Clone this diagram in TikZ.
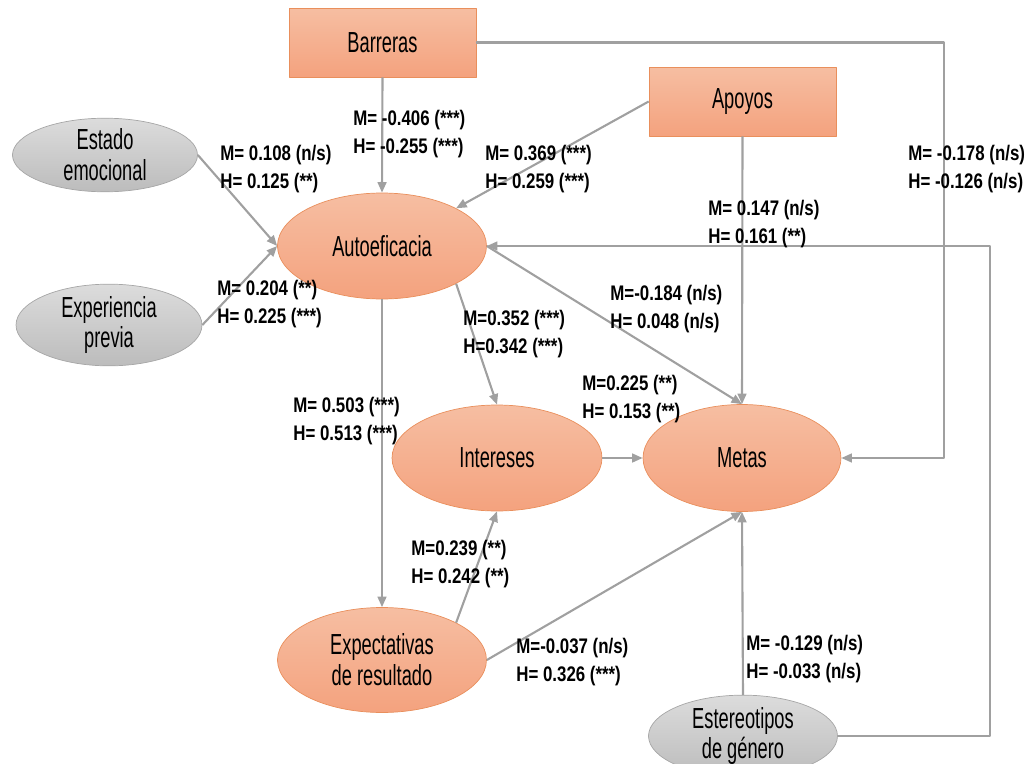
\documentclass[tikz,border=0pt]{standalone}
\usepackage{fontspec}
\setmainfont{Liberation Sans}
\newfontfamily\nodefont[FakeStretch=0.63]{Liberation Sans}
\newfontfamily\labfont[FakeStretch=0.8]{Liberation Sans}
\usepackage{tikz}
\usetikzlibrary{shapes.geometric,arrows.meta}
\definecolor{salmonA}{HTML}{F6BEA2}
\definecolor{salmonB}{HTML}{F4A27E}
\definecolor{salmonL}{HTML}{E98F5C}
\definecolor{grisA}{HTML}{DCDCDC}
\definecolor{grisB}{HTML}{BCBCBC}
\definecolor{grisL}{HTML}{A6A6A6}
\definecolor{flecha}{HTML}{A0A0A0}
\tikzset{>={Triangle[length=6pt,width=5pt]}}
\tikzset{
  caja/.style={rectangle,draw=salmonL,top color=salmonA,bottom color=salmonB,
    minimum width=3.74cm,minimum height=1.38cm,inner sep=0pt,
    font=\nodefont\fontsize{16.5}{17}\selectfont},
  latente/.style={ellipse,draw=salmonL,top color=salmonA,bottom color=salmonB,
    inner sep=0pt,align=center,font=\nodefont\fontsize{16.5}{17.5}\selectfont},
  externa/.style={ellipse,draw=grisL,top color=grisA,bottom color=grisB,
    inner sep=0pt,align=center,font=\nodefont\fontsize{16.5}{17.5}\selectfont},
  coef/.style={anchor=west,align=left,inner sep=0pt,
    font=\labfont\bfseries\fontsize{12}{16}\selectfont},
  flujo/.style={draw=flecha,line width=1.2pt,->},
  linea/.style={draw=flecha,line width=1.2pt}
}

\begin{document}
\begin{tikzpicture}[x=0.02cm,y=-0.02cm,line join=round]
	\useasboundingbox (0,0) rectangle (1028,764);
	% cajas
	\node[caja] (barreras) at (382.5,42.5) {Barreras};
	\node[caja] (apoyos) at (742.5,101.5) {Apoyos};
	% variables
	\node[externa,minimum width=3.70cm,minimum height=1.36cm] (estado) at (105,155) {Estado\\emocional};
	\node[externa,minimum width=3.72cm,minimum height=1.38cm] (experiencia) at (109,325) {Experiencia\\previa};
	\node[latente,minimum width=4.18cm,minimum height=2.12cm] (autoef) at (382,246) {Autoeficacia};
	\node[latente,minimum width=4.20cm,minimum height=2.12cm] (intereses) at (497,458) {Intereses};
	\node[latente,minimum width=3.96cm,minimum height=2.14cm] (metas) at (742,458) {Metas};
	\node[latente,minimum width=4.18cm,minimum height=2.10cm] (expect) at (382,660) {Expectativas\\de resultado};
	\node[externa,minimum width=3.78cm,minimum height=1.36cm] (estereo) at (743,736) {Estereotipos\\de género};
	% codos
	\coordinate (codoB) at (944,458);
	\coordinate (codoE) at (990,736);
	% flechas
	\draw[flujo] (barreras.south) -- (autoef.north);
	\draw[flujo] (estado.east) -- (autoef.west);
	\draw[flujo] (experiencia.east) -- (autoef.west);
	\draw[flujo] (apoyos.west) -- (autoef.north east);
	\draw[flujo] (apoyos.south) -- (metas.north);
	\draw[flujo] (barreras.east) -| (codoB) -- (metas.east);
	\draw[flujo] (estereo.east) -- (codoE) |- (autoef.east);
	\draw[flujo] (autoef.east) -- (metas.north);
	\draw[flujo] (autoef.south east) -- (intereses.north);
	\draw[flujo] (autoef.south) -- (expect.north);
	\draw[flujo] (expect.north east) -- (intereses.south);
	\draw[flujo] (expect.east) -- (metas.south);
	\draw[flujo] (intereses.east) -- (metas.west);
	\draw[flujo] (estereo.north) -- (metas.south);
	% coeficientes
	\node[coef] (cBarr) at (353,134) {M= -0.406 (***)\\H= -0.255 (***)};
	\node[coef] (cEst) at (220,169) {M= 0.108 (n/s)\\H= 0.125 (**)};
	\node[coef] (cApo) at (485,169) {M= 0.369 (***)\\H= 0.259 (***)};
	\node[coef] (cBarrMet) at (908,169) {M= -0.178 (n/s)\\H= -0.126 (n/s)};
	\node[coef] (cApoMet) at (708,224) {M= 0.147 (n/s)\\H= 0.161 (**)};
	\node[coef] (cExp) at (217,304) {M= 0.204 (**)\\H= 0.225 (***)};
	\node[coef] (cAutMet) at (610,309) {M=-0.184 (n/s)\\H= 0.048 (n/s)};
	\node[coef] (cAutInt) at (463,334) {M=0.352 (***)\\H=0.342 (***)};
	\node[coef] (cIntMet) at (582,399) {M=0.225 (**)\\H= 0.153 (**)};
	\node[coef] (cAutExp) at (293,421) {M= 0.503 (***)\\H= 0.513 (***)};
	\node[coef] (cExpInt) at (411,564) {M=0.239 (**)\\H= 0.242 (**)};
	\node[coef] (cExpMet) at (516,662) {M=-0.037 (n/s)\\H= 0.326 (***)};
	\node[coef] (cGen) at (746,659) {M= -0.129 (n/s)\\H= -0.033 (n/s)};
\end{tikzpicture}
\end{document}
